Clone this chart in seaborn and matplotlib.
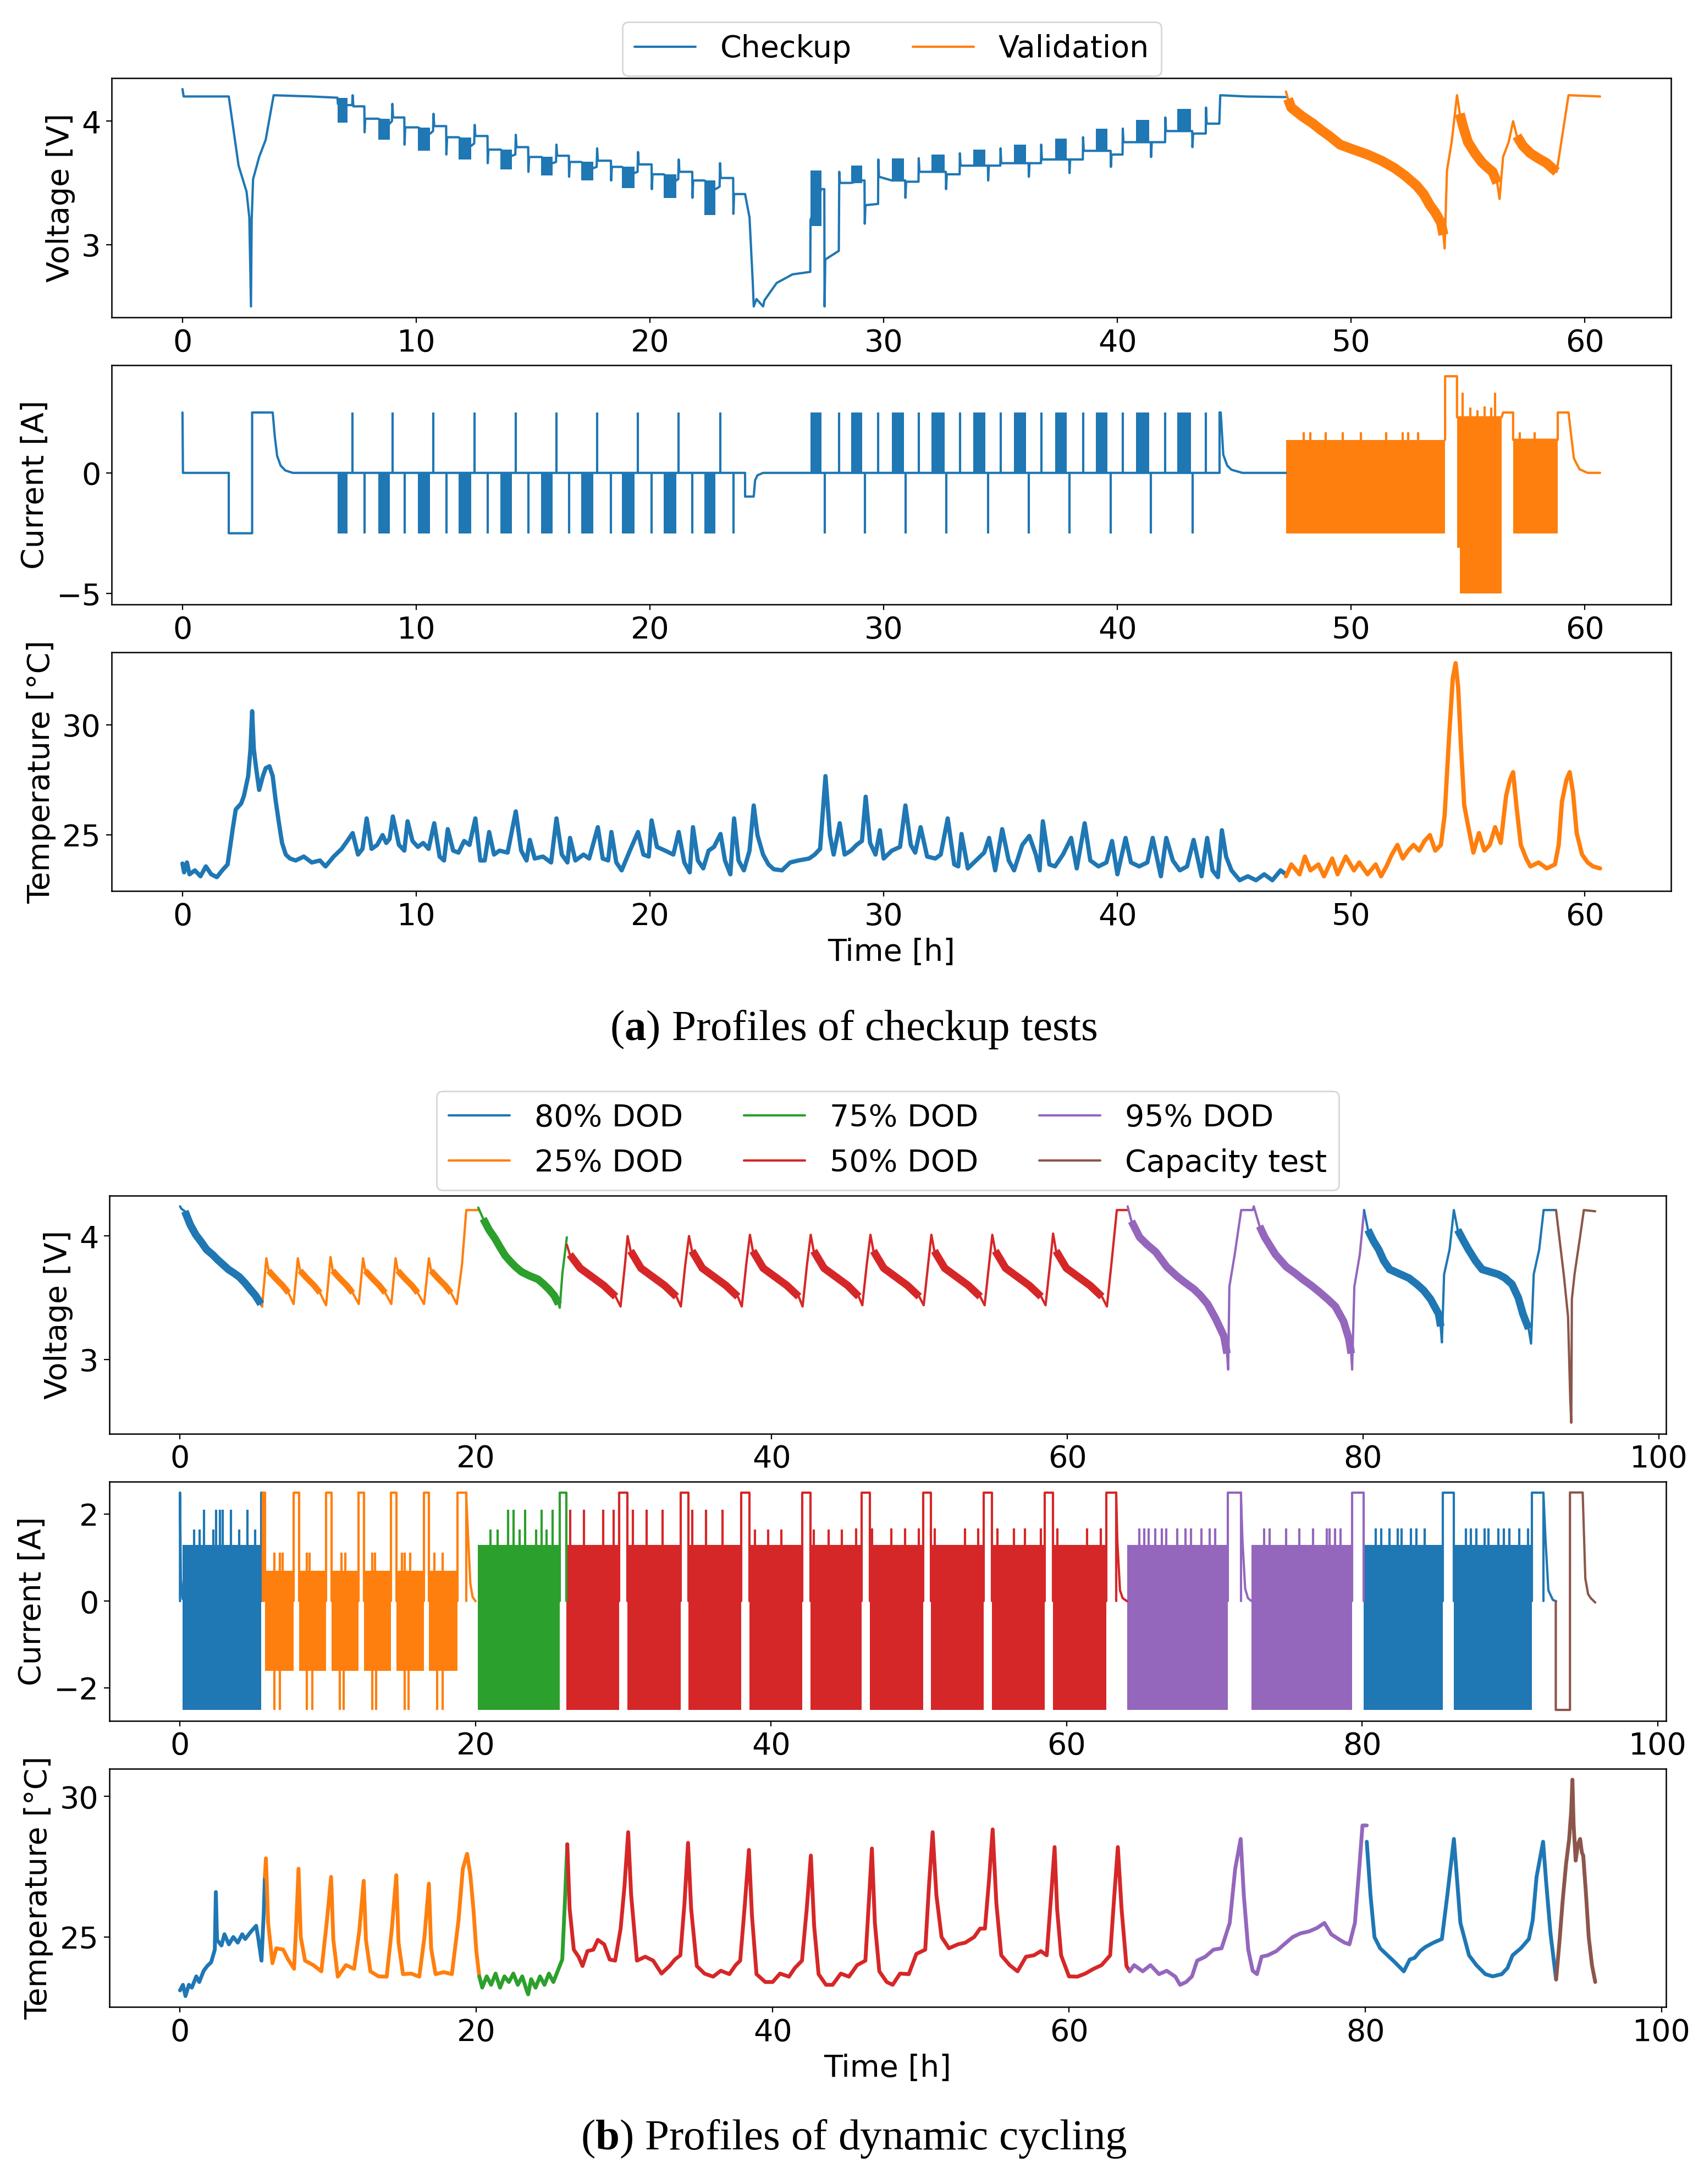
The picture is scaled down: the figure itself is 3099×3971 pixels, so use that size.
import numpy as np
import matplotlib
matplotlib.use("Agg")
import matplotlib.pyplot as plt
from matplotlib.lines import Line2D
import seaborn as sns

# ---------------------------------------------------------------
# values, time in hours
# ---------------------------------------------------------------

# (a) checkup test, voltage [V]
va_checkup = [
    (0.0, 4.26), (0.05, 4.20), (1.98, 4.20), (2.4, 3.64), (2.74, 3.43), (2.86, 3.22), (2.93, 2.50),
    (2.96, 3.20), (3.02, 3.53), (3.28, 3.71), (3.56, 3.85), (3.9, 4.21), (5.5, 4.20), (6.63, 4.19),
    (6.65, 4.14), (7.05, 4.13), (7.26, 4.13), (7.28, 4.21), (7.31, 4.12), (7.78, 4.12), (7.79, 3.91), (7.82, 4.02), (8.37, 4.02),
    (8.86, 3.98), (8.96, 4.00), (8.98, 4.14), (9.01, 4.03), (9.49, 4.03), (9.50, 3.81), (9.53, 3.95), (10.07, 3.95),
    (10.6, 3.90), (10.72, 3.92), (10.74, 4.06), (10.77, 3.96), (11.28, 3.96), (11.29, 3.73), (11.32, 3.87), (11.81, 3.87),
    (12.35, 3.80), (12.48, 3.82), (12.50, 3.97), (12.53, 3.88), (13.05, 3.88), (13.06, 3.66), (13.09, 3.77), (13.6, 3.77),
    (14.1, 3.72), (14.24, 3.73), (14.26, 3.89), (14.29, 3.79), (14.79, 3.79), (14.80, 3.59), (14.83, 3.71), (15.35, 3.71),
    (15.84, 3.66), (15.98, 3.67), (16.00, 3.81), (16.03, 3.72), (16.53, 3.72), (16.54, 3.55), (16.57, 3.67), (17.05, 3.67),
    (17.58, 3.62), (17.72, 3.63), (17.74, 3.78), (17.77, 3.68), (18.33, 3.68), (18.34, 3.52), (18.37, 3.63), (18.79, 3.63),
    (19.33, 3.58), (19.47, 3.59), (19.49, 3.75), (19.52, 3.65), (20.07, 3.65), (20.08, 3.45), (20.11, 3.57), (20.58, 3.57),
    (21.12, 3.52), (21.21, 3.53), (21.23, 3.69), (21.26, 3.59), (21.81, 3.59), (21.82, 3.38), (21.85, 3.52), (22.33, 3.52),
    (22.81, 3.45), (22.98, 3.47), (23.00, 3.66), (23.03, 3.54), (23.56, 3.54), (23.57, 3.25), (23.60, 3.41), (24.07, 3.41),
    (24.26, 3.22), (24.40, 2.69), (24.44, 2.50), (24.56, 2.56), (24.84, 2.50), (24.90, 2.55), (25.42, 2.69), (26.1, 2.76),
    (26.86, 2.78), (26.87, 3.20), (27.33, 3.45), (27.46, 3.45), (27.47, 2.50), (27.50, 2.88), (28.08, 2.95), (28.10, 3.59),
    (28.13, 3.50), (28.6, 3.50), (29.07, 3.52), (29.18, 3.52), (29.19, 3.17), (29.22, 3.32), (29.76, 3.33), (29.77, 3.69),
    (29.80, 3.55), (30.35, 3.52), (30.86, 3.52), (30.92, 3.52), (30.93, 3.38), (30.96, 3.51), (31.49, 3.51), (31.50, 3.70),
    (31.53, 3.59), (32.05, 3.59), (32.6, 3.59), (32.66, 3.59), (32.67, 3.45), (32.70, 3.57), (33.25, 3.57), (33.26, 3.74),
    (33.29, 3.64), (33.84, 3.64), (34.35, 3.64), (34.46, 3.64), (34.47, 3.52), (34.50, 3.64), (34.99, 3.64), (35.00, 3.78),
    (35.03, 3.66), (35.58, 3.66), (36.1, 3.66), (36.20, 3.66), (36.21, 3.55), (36.24, 3.66), (36.73, 3.66), (36.74, 3.81),
    (36.77, 3.69), (37.33, 3.69), (37.84, 3.69), (37.94, 3.69), (37.95, 3.58), (37.98, 3.69), (38.52, 3.69), (38.53, 3.87),
    (38.56, 3.76), (39.07, 3.76), (39.58, 3.76), (39.71, 3.76), (39.72, 3.63), (39.75, 3.73), (40.22, 3.73), (40.23, 3.94),
    (40.26, 3.83), (40.8, 3.83), (41.35, 3.83), (41.43, 3.83), (41.44, 3.71), (41.47, 3.83), (42.04, 3.83), (42.05, 4.03),
    (42.08, 3.92), (42.56, 3.92), (43.14, 3.92), (43.20, 3.92), (43.21, 3.79), (43.24, 3.90), (43.78, 3.90), (43.79, 4.11),
    (43.82, 3.98), (44.36, 3.98), (44.40, 4.21), (45.5, 4.20), (47.21, 4.195),
]
# pulse groups of the checkup (discharge / charge)
dis_groups = [(6.63, 7.05), (8.37, 8.86), (10.07, 10.6), (11.81, 12.35), (13.6, 14.1),
              (15.35, 15.84), (17.05, 17.58), (18.79, 19.33), (20.58, 21.12), (22.33, 22.81)]
chg_groups = [(26.87, 27.33), (28.6, 29.07), (30.35, 30.86), (32.05, 32.6), (33.84, 34.35),
              (35.58, 36.1), (37.33, 37.84), (39.07, 39.58), (40.8, 41.35), (42.56, 43.14)]
va_dis_lo = [3.99, 3.85, 3.76, 3.69, 3.61, 3.56, 3.52, 3.46, 3.38, 3.24]
va_dis_hi = [4.19, 4.02, 3.95, 3.87, 3.77, 3.71, 3.67, 3.63, 3.57, 3.52]
va_chg_lo = [3.15, 3.50, 3.52, 3.59, 3.64, 3.66, 3.69, 3.76, 3.83, 3.92]
va_chg_hi = [3.60, 3.64, 3.70, 3.73, 3.77, 3.81, 3.86, 3.94, 4.01, 4.10]

# (a) validation, voltage [V]
va_valid = [
    (47.21, 4.24), (47.3, 4.18), (47.44, 4.11), (47.9, 4.04), (48.37, 3.98), (48.7, 3.93), (49.07, 3.88),
    (49.53, 3.81), (50.1, 3.77), (50.7, 3.73), (51.3, 3.68), (51.86, 3.62), (52.3, 3.56), (52.79, 3.48),
    (53.1, 3.41), (53.37, 3.32), (53.6, 3.26), (53.84, 3.18), (53.95, 3.08), (54.0, 2.97), (54.1, 3.60),
    (54.3, 3.83), (54.53, 4.21), (54.65, 4.06), (54.8, 3.95), (55.0, 3.83), (55.3, 3.74), (55.58, 3.67),
    (55.8, 3.63), (56.05, 3.59), (56.25, 3.50), (56.35, 3.37), (56.5, 3.71), (56.74, 3.83), (56.93, 4.00),
    (57.09, 3.88), (57.35, 3.80), (57.67, 3.74), (58.0, 3.70), (58.37, 3.66), (58.6, 3.62), (58.79, 3.59),
    (58.95, 3.78), (59.3, 4.21), (60.65, 4.20),
]
va_valid_noisy = [(47.25, 53.95), (54.55, 56.3), (57.0, 58.8)]

# (a) current [A]
ia_checkup = [
    (0.0, 2.5), (0.02, 0.0), (1.98, 0.0), (1.98, -2.5), (2.98, -2.5), (2.98, 2.5), (3.86, 2.5), (3.95, 1.5),
    (4.05, 0.7), (4.2, 0.3), (4.4, 0.1), (4.72, 0.0), (24.07, 0.0), (24.07, -0.98), (24.44, -0.98),
    (24.5, -0.3), (24.6, -0.1), (24.84, 0.0), (44.37, 0.0), (44.37, 2.5), (44.42, 2.5), (44.53, 0.75),
    (44.7, 0.3), (44.88, 0.13), (45.35, 0.0), (47.21, 0.0),
]
ia_neg_pulses = [7.79, 9.50, 11.29, 13.06, 14.80, 16.54, 18.34, 20.08, 21.82, 23.57,
                 27.47, 29.19, 30.93, 32.67, 34.47, 36.21, 37.95, 39.72, 41.44, 43.21]
ia_pos_pulses = [7.28, 8.98, 10.74, 12.50, 14.26, 16.00, 17.74, 19.49, 21.23, 23.00,
                 28.10, 29.77, 31.50, 33.26, 35.00, 36.74, 38.53, 40.23, 42.05, 43.79]
ia_valid_bands = [(47.21, 54.02), (54.53, 54.66), (54.66, 56.44), (56.93, 58.84)]
ia_valid_lo = [-2.5, -3.1, -5.0, -2.5]
ia_valid_hi = [1.37, 2.3, 2.3, 1.37]
ia_valid_line = [
    (54.02, 1.37), (54.02, 4.0), (54.53, 4.0), (54.53, 2.3), (56.44, 2.3), (56.5, 2.5), (56.93, 2.5),
    (56.93, 1.37), (58.84, 1.37), (58.84, 2.5), (59.3, 2.5), (59.42, 1.5), (59.53, 0.6), (59.77, 0.15),
    (60.12, 0.0), (60.65, 0.0),
]
ia_valid_spike_t = [47.98, 48.26, 48.91, 49.65, 50.42, 51.51, 52.21, 52.44, 52.86,
                    54.77, 55.1, 55.4, 55.7, 56.0, 56.16, 57.21, 57.86]
ia_valid_spike_i = [1.67, 1.67, 1.67, 1.67, 1.67, 1.67, 1.67, 1.67, 1.67,
                    3.33, 2.7, 2.6, 2.75, 2.7, 3.33, 1.67, 1.67]

# (a) temperature [degC]
ta_checkup = [
    (0.0, 23.68), (0.07, 23.28), (0.19, 23.73), (0.3, 23.19), (0.53, 23.37), (0.77, 23.1), (1.0, 23.55),
    (1.23, 23.19), (1.47, 23.06), (1.7, 23.37), (1.93, 23.64), (2.05, 24.53), (2.16, 25.34), (2.28, 26.15),
    (2.51, 26.42), (2.63, 26.77), (2.81, 27.67), (2.91, 28.92), (2.98, 30.63), (3.05, 28.92), (3.14, 28.12),
    (3.28, 27.04), (3.44, 27.67), (3.56, 28.03), (3.72, 28.12), (3.86, 27.67), (3.98, 26.6), (4.14, 25.43),
    (4.26, 24.62), (4.42, 24.09), (4.6, 23.91), (4.84, 23.82), (5.19, 24.0), (5.53, 23.73), (5.88, 23.82),
    (6.12, 23.55), (6.47, 24.0), (6.81, 24.35), (7.05, 24.71), (7.28, 25.07), (7.51, 24.09), (7.7, 24.35),
    (7.88, 25.74), (8.09, 24.35), (8.33, 24.53), (8.56, 24.98), (8.72, 24.62), (8.86, 24.8), (9.0, 25.83),
    (9.26, 24.53), (9.49, 24.27), (9.63, 25.61), (9.84, 24.71), (10.07, 24.44), (10.3, 24.62), (10.53, 24.35),
    (10.77, 25.52), (11.0, 24.0), (11.19, 23.82), (11.35, 25.25), (11.58, 24.27), (11.81, 24.18), (12.05, 24.71),
    (12.28, 24.53), (12.53, 25.74), (12.74, 23.82), (12.93, 23.82), (13.12, 25.12), (13.33, 24.09), (13.56, 24.27),
    (13.91, 24.18), (14.26, 26.06), (14.49, 24.27), (14.72, 23.82), (14.86, 24.76), (15.07, 23.91), (15.42, 24.0),
    (15.77, 23.73), (16.0, 25.74), (16.23, 24.09), (16.47, 23.73), (16.58, 24.85), (16.81, 23.82), (17.16, 24.09),
    (17.4, 23.91), (17.77, 25.34), (17.98, 23.91), (18.21, 23.82), (18.35, 25.12), (18.56, 23.73), (18.79, 23.37),
    (19.14, 24.27), (19.49, 25.12), (19.72, 24.09), (19.95, 24.0), (20.07, 25.65), (20.3, 24.44), (20.65, 24.27),
    (21.0, 24.09), (21.23, 25.12), (21.47, 23.73), (21.7, 23.28), (21.84, 25.34), (22.05, 23.82), (22.28, 23.46),
    (22.51, 24.27), (22.74, 24.44), (23.02, 25.03), (23.21, 23.82), (23.44, 23.19), (23.6, 25.74), (23.79, 23.82),
    (24.02, 23.37), (24.26, 24.27), (24.44, 26.33), (24.6, 24.98), (24.84, 24.09), (25.07, 23.64), (25.3, 23.42),
    (25.65, 23.37), (26.0, 23.73), (26.35, 23.82), (26.81, 23.91), (27.05, 24.09), (27.28, 24.35), (27.51, 27.67),
    (27.7, 24.98), (27.86, 24.09), (28.12, 25.52), (28.33, 24.09), (28.6, 24.27), (28.84, 24.53), (29.07, 24.71),
    (29.23, 26.73), (29.42, 24.62), (29.65, 24.09), (29.84, 25.2), (30.0, 23.91), (30.35, 24.27), (30.7, 24.44),
    (30.93, 26.33), (31.16, 24.53), (31.35, 24.18), (31.58, 25.34), (31.86, 24.0), (32.21, 23.91), (32.44, 24.09),
    (32.74, 25.74), (33.02, 23.64), (33.19, 23.55), (33.33, 25.03), (33.6, 23.46), (33.95, 23.82), (34.3, 24.18),
    (34.51, 24.85), (34.77, 23.37), (35.07, 25.25), (35.35, 23.82), (35.58, 23.37), (35.93, 24.53), (36.23, 24.94),
    (36.51, 24.09), (36.67, 23.37), (36.81, 25.61), (37.09, 23.64), (37.33, 23.55), (37.67, 24.09), (38.02, 24.85),
    (38.26, 23.46), (38.6, 25.52), (38.84, 23.82), (39.19, 23.55), (39.53, 23.73), (39.77, 24.71), (40.0, 23.19),
    (40.35, 24.85), (40.58, 23.73), (40.93, 23.55), (41.28, 23.73), (41.51, 24.85), (41.86, 23.1), (42.09, 24.85),
    (42.37, 23.82), (42.67, 23.37), (42.98, 23.55), (43.26, 24.76), (43.6, 23.1), (43.84, 24.85), (44.07, 23.37),
    (44.3, 23.06), (44.47, 25.2), (44.65, 24.0), (44.88, 23.37), (45.23, 22.92), (45.58, 23.1), (45.93, 22.92),
    (46.28, 23.19), (46.63, 22.92), (46.98, 23.37), (47.21, 23.19),
]
ta_valid = [
    (47.21, 23.1), (47.44, 23.64), (47.79, 23.19), (48.02, 24.0), (48.26, 23.37), (48.6, 23.64), (48.84, 23.1),
    (49.19, 23.91), (49.42, 23.19), (49.77, 24.0), (50.12, 23.37), (50.35, 23.73), (50.7, 23.19), (51.05, 23.64),
    (51.28, 23.1), (51.51, 23.55), (51.74, 24.09), (51.98, 24.53), (52.21, 23.91), (52.44, 24.27), (52.67, 24.53),
    (52.91, 24.27), (53.14, 24.71), (53.37, 24.98), (53.6, 24.27), (53.84, 24.53), (54.0, 25.88), (54.19, 29.46),
    (54.35, 32.15), (54.47, 32.82), (54.58, 31.7), (54.7, 29.01), (54.84, 26.33), (55.0, 25.43), (55.23, 24.18),
    (55.47, 25.07), (55.7, 24.27), (55.93, 24.53), (56.16, 25.34), (56.4, 24.62), (56.63, 26.77), (56.79, 27.49),
    (56.93, 27.85), (57.07, 26.33), (57.26, 24.53), (57.49, 23.91), (57.67, 23.55), (58.02, 23.73), (58.37, 23.46),
    (58.72, 23.64), (58.88, 24.53), (59.02, 26.51), (59.21, 27.49), (59.35, 27.85), (59.49, 26.95), (59.65, 25.07),
    (59.88, 24.09), (60.12, 23.73), (60.35, 23.55), (60.65, 23.46),
]

# (b) dynamic cycling, voltage [V]
vb_d80_1 = [(0.0, 4.24), (0.1, 4.22), (0.33, 4.20), (0.7, 4.09), (1.07, 4.01), (1.45, 3.95), (1.8, 3.89),
            (2.2, 3.85), (2.53, 3.81), (2.9, 3.77), (3.27, 3.73), (3.65, 3.70), (4.0, 3.67), (4.4, 3.62),
            (4.74, 3.57), (5.1, 3.52), (5.47, 3.45), (5.55, 3.43)]
vb_d25 = [(5.55, 3.43), (5.84, 3.82), (5.99, 3.72), (6.44, 3.66), (6.94, 3.60), (7.34, 3.54), (7.68, 3.45),
          (7.97, 3.82), (8.12, 3.72), (8.57, 3.66), (9.07, 3.60), (9.47, 3.54), (9.88, 3.44),
          (10.18, 3.83), (10.33, 3.72), (10.78, 3.66), (11.28, 3.60), (11.68, 3.54), (12.09, 3.45),
          (12.38, 3.82), (12.53, 3.72), (12.98, 3.66), (13.48, 3.60), (13.88, 3.54), (14.29, 3.45),
          (14.58, 3.82), (14.73, 3.72), (15.18, 3.66), (15.68, 3.60), (16.08, 3.54), (16.5, 3.45),
          (16.83, 3.82), (16.98, 3.72), (17.43, 3.66), (17.93, 3.60), (18.33, 3.54), (18.72, 3.45),
          (19.07, 3.77), (19.36, 4.21), (20.17, 4.21)]
vb_d75 = [(20.17, 4.23), (20.5, 4.14), (20.9, 4.05), (21.3, 3.98), (21.64, 3.91), (22.0, 3.84), (22.37, 3.79),
          (22.7, 3.75), (23.1, 3.71), (23.6, 3.68), (24.21, 3.65), (24.6, 3.61), (24.94, 3.57), (25.3, 3.52),
          (25.6, 3.45), (25.68, 3.42), (25.86, 3.70), (26.16, 3.99)]
vb_d50 = [(26.16, 3.93), (26.36, 3.85), (27.06, 3.74), (27.86, 3.67), (28.66, 3.60), (29.46, 3.51), (29.79, 3.43), (30.09, 3.77), (30.27, 4.00),
          (30.47, 3.88), (31.17, 3.74), (31.97, 3.67), (32.77, 3.60), (33.57, 3.51), (33.87, 3.43), (34.17, 3.77), (34.42, 4.00),
          (34.62, 3.88), (35.32, 3.74), (36.12, 3.67), (36.92, 3.60), (37.72, 3.51), (37.99, 3.43), (38.29, 3.77), (38.54, 4.01),
          (38.74, 3.88), (39.44, 3.74), (40.24, 3.67), (41.04, 3.60), (41.84, 3.51), (42.1, 3.43), (42.4, 3.77), (42.65, 4.01),
          (42.85, 3.88), (43.55, 3.74), (44.35, 3.67), (45.15, 3.60), (45.9, 3.51), (46.14, 3.44), (46.44, 3.77), (46.69, 4.01),
          (46.89, 3.88), (47.59, 3.74), (48.39, 3.67), (49.19, 3.60), (49.99, 3.51), (50.29, 3.44), (50.59, 3.77), (50.81, 4.01),
          (51.01, 3.88), (51.71, 3.74), (52.51, 3.67), (53.31, 3.60), (54.11, 3.51), (54.41, 3.44), (54.71, 3.77), (54.93, 4.01),
          (55.13, 3.88), (55.83, 3.74), (56.63, 3.67), (57.43, 3.60), (58.23, 3.51), (58.53, 3.44), (58.83, 3.77), (59.04, 4.02),
          (59.24, 3.88), (59.94, 3.74), (60.74, 3.67), (61.54, 3.60), (62.34, 3.51), (62.68, 3.43), (62.98, 3.77), (63.35, 4.21),
          (64.08, 4.21)]
vb_d95 = [(64.08, 4.24), (64.34, 4.12), (64.89, 3.99), (65.4, 3.93), (65.99, 3.87), (66.73, 3.75), (67.46, 3.67),
          (68.0, 3.62), (68.57, 3.57), (69.0, 3.52), (69.49, 3.45), (70.04, 3.33), (70.59, 3.19), (70.8, 3.05),
          (70.88, 2.92), (70.96, 3.59), (71.32, 3.85), (71.76, 4.21), (72.54, 4.21), (72.61, 4.24), (73.0, 4.08),
          (73.35, 3.99), (74.08, 3.85), (74.82, 3.75), (75.4, 3.70), (75.92, 3.65), (76.5, 3.60), (77.02, 3.55),
          (77.6, 3.49), (78.13, 3.43), (78.68, 3.31), (79.04, 3.17), (79.2, 3.05), (79.26, 2.92), (79.41, 3.59),
          (79.78, 3.85), (80.07, 4.21)]
vb_d80_2 = [(80.07, 4.21), (80.33, 4.05), (80.7, 3.96), (81.06, 3.89), (81.4, 3.80), (81.8, 3.73), (82.54, 3.69),
            (83.1, 3.66), (83.64, 3.61), (84.1, 3.56), (84.56, 3.49), (85.11, 3.37), (85.25, 3.27), (85.33, 3.14),
            (85.48, 3.69), (85.85, 3.89), (86.14, 4.21), (86.4, 4.05), (86.8, 3.96), (87.13, 3.89), (87.6, 3.80),
            (88.05, 3.73), (89.15, 3.69), (89.6, 3.66), (90.07, 3.61), (90.5, 3.50), (90.81, 3.37), (91.2, 3.25),
            (91.36, 3.13), (91.54, 3.69), (91.91, 3.89), (92.21, 4.21), (93.05, 4.21)]
vb_cap = [(93.05, 4.21), (93.57, 3.69), (93.86, 3.35), (94.01, 2.68), (94.08, 2.49), (94.12, 3.49),
          (94.3, 3.69), (94.67, 3.99), (94.93, 4.21), (95.7, 4.20)]
vb_d80_noisy = [(0.3, 5.5), (80.25, 85.3), (86.3, 91.33)]
vb_d25_noisy = [(5.9, 7.65), (8.03, 9.85), (10.24, 12.05), (12.44, 14.25), (14.64, 16.47), (16.89, 18.7)]
vb_d75_noisy = [(20.3, 25.6)]
vb_d50_noisy = [(26.3, 29.75), (30.4, 33.85), (34.55, 37.95), (38.67, 42.05), (42.78, 46.1),
                (46.82, 50.25), (50.94, 54.38), (55.06, 58.5), (59.17, 62.65)]
vb_d95_noisy = [(64.3, 70.85), (72.7, 79.22)]

# (b) current [A]: dense switching bands, 2.5 A charge plateaus, decays and spikes
ib_d80_bands = [(0.18, 5.5), (80.11, 85.45), (86.19, 91.49)]
ib_d80_plateaus = [(5.5, 5.62), (85.45, 86.19), (91.49, 92.26)]
ib_d80_line = [(0.0, 0.0), (0.0, 2.5), (0.06, 0.5), (0.18, 0.05)]
ib_d80_tail = [(92.26, 2.5), (92.41, 1.38), (92.6, 0.25), (92.9, 0.03), (93.12, 0.0)]
ib_d80_spike_t = [0.96, 1.32, 1.62, 2.24, 2.46, 2.72, 2.9, 3.45, 4.0, 4.55, 5.1,
                  80.92, 81.29, 81.84, 82.39, 82.65, 83.31, 83.68, 84.24,
                  87.0, 87.37, 87.73, 88.29, 88.55, 89.21, 89.58, 89.95, 90.61, 91.23]
ib_d80_spike_i = [1.65, 1.65, 2.1, 1.65, 2.1, 2.1, 2.1, 2.1, 1.65, 2.1, 1.65,
                  1.67, 1.67, 1.67, 1.67, 1.67, 1.67, 1.67, 1.67,
                  1.67, 1.67, 1.67, 1.67, 1.67, 1.67, 1.67, 1.67, 1.67, 1.67]
ib_d25_bands = [(5.75, 7.68), (8.05, 9.88), (10.25, 12.09), (12.45, 14.29), (14.66, 16.5), (16.86, 18.77)]
ib_d25_plateaus = [(5.62, 5.75), (7.68, 8.05), (9.88, 10.25), (12.09, 12.45), (14.29, 14.66), (16.5, 16.86), (18.77, 19.36)]
ib_d25_tail = [(19.36, 2.5), (19.51, 1.38), (19.65, 0.4), (19.8, 0.1), (20.0, 0.0)]
ib_d25_up_t = [6.39, 6.76, 6.94, 8.6, 8.78, 10.91, 11.17, 13.0, 13.19, 15.03, 15.21, 15.58, 17.23, 17.78]
ib_d25_dn_t = [6.39, 6.76, 8.6, 8.96, 10.8, 11.06, 13.0, 13.26, 15.21, 15.47, 17.41, 17.78]
ib_d75_bands = [(20.17, 25.68)]
ib_d75_plateaus = [(25.68, 26.16)]
ib_d75_spike_t = [21.0, 21.5, 22.19, 22.56, 23.0, 23.37, 24.1, 24.47, 24.8, 25.2]
ib_d75_spike_i = [1.65, 1.65, 2.1, 2.1, 1.65, 2.1, 1.65, 2.1, 1.65, 2.1]
ib_d50_bands = [(26.16, 29.72), (30.27, 33.87), (34.42, 37.99), (38.54, 42.1), (42.65, 46.11),
                (46.67, 50.28), (50.83, 54.4), (54.95, 58.53), (59.08, 62.69)]
ib_d50_plateaus = [(29.72, 30.27), (33.87, 34.42), (37.99, 38.54), (42.1, 42.65), (46.11, 46.67),
                   (50.28, 50.83), (54.4, 54.95), (58.53, 59.08), (62.69, 63.35)]
ib_d50_tail = [(63.35, 2.5), (63.43, 1.38), (63.61, 0.25), (63.79, 0.07), (64.09, 0.0)]
ib_d50_spike_t = [26.41, 27.33, 28.62, 29.35, 30.64, 31.56, 32.66, 34.68, 35.6, 36.7, 38.9, 39.8, 40.7,
                  42.9, 43.9, 44.8, 45.75, 46.85, 48.14, 49.06, 49.98, 51.08, 53.11, 54.03, 55.32,
                  56.43, 57.16, 58.27, 59.37, 61.4, 62.32]
ib_d50_spike_i = [2.1, 2.1, 2.1, 2.1, 2.1, 2.1, 2.1, 2.1, 2.1, 2.1, 1.65, 1.65, 1.65,
                  1.65, 1.65, 1.65, 1.67, 1.67, 1.67, 1.67, 1.67, 1.67, 1.67, 1.67, 1.67,
                  1.67, 1.67, 1.67, 1.67, 1.67, 1.67]
ib_d95_bands = [(64.09, 70.9), (72.52, 79.3)]
ib_d95_plateaus = [(70.9, 71.79), (79.3, 80.11)]
ib_d95_tail = [(71.79, 2.5), (71.9, 1.38), (72.08, 0.29), (72.27, 0.07), (72.52, 0.0)]
ib_d95_spike_t = [64.9, 65.27, 65.56, 66.0, 66.45, 66.74, 67.48, 68.03, 68.4, 69.13, 69.69, 70.06,
                  73.37, 73.74, 74.84, 75.76, 76.68, 77.61, 77.79, 78.16, 78.53]
ib_cap = [(93.1, 0.0), (93.1, -2.5), (94.06, -2.5), (94.06, 2.5), (94.92, 2.5), (95.1, 0.52),
          (95.29, 0.16), (95.47, 0.07), (95.77, -0.03)]

# (b) temperature [degC]
tb_d80_1 = [(0.0, 23.1), (0.2, 23.3), (0.37, 22.9), (0.6, 23.3), (0.8, 23.2), (1.1, 23.6), (1.3, 23.4),
            (1.6, 23.8), (1.84, 23.97), (2.1, 24.1), (2.35, 24.55), (2.42, 26.6), (2.5, 24.9), (2.8, 24.7),
            (3.0, 25.1), (3.3, 24.74), (3.6, 25.0), (3.9, 24.8), (4.2, 25.1), (4.4, 24.93), (4.8, 25.2),
            (5.14, 25.4), (5.3, 24.9), (5.5, 24.16), (5.65, 25.8), (5.73, 27.14)]
tb_d25 = [(5.73, 27.14), (5.8, 27.8), (5.95, 25.5), (6.24, 24.07), (6.5, 24.6), (6.97, 24.55), (7.3, 24.2),
          (7.7, 23.87), (7.85, 25.5), (8.0, 27.43), (8.15, 25.0), (8.44, 24.16), (9.0, 24.0), (9.54, 23.78),
          (9.9, 25.5), (10.2, 27.14), (10.35, 24.9), (10.65, 23.59), (11.2, 24.0), (11.75, 23.87), (12.1, 25.2),
          (12.4, 27.0), (12.55, 24.9), (12.85, 23.78), (13.4, 23.6), (13.95, 23.59), (14.3, 25.3), (14.6, 27.2),
          (14.75, 24.8), (15.05, 23.68), (15.6, 23.7), (16.15, 23.59), (16.5, 25.0), (16.8, 26.9), (16.95, 24.6),
          (17.25, 23.68), (17.8, 23.75), (18.35, 23.68), (18.8, 25.6), (19.09, 27.43), (19.38, 27.96),
          (19.6, 27.2), (19.82, 25.9), (20.0, 24.5), (20.2, 23.6)]
tb_d75 = [(20.2, 23.6), (20.4, 23.2), (20.7, 23.6), (21.0, 23.3), (21.3, 23.7), (21.6, 23.2), (21.9, 23.6),
          (22.2, 23.4), (22.5, 23.7), (22.8, 23.3), (23.1, 23.6), (23.4, 23.1), (23.5, 22.96), (23.7, 23.5),
          (24.0, 23.2), (24.3, 23.6), (24.6, 23.3), (24.9, 23.7), (25.2, 23.4), (25.5, 23.8), (25.8, 24.2),
          (26.0, 26.5), (26.14, 28.3)]
tb_d50 = [(26.14, 28.3), (26.3, 26.0), (26.58, 24.55), (26.9, 24.3), (27.17, 23.97), (27.5, 24.5), (27.9, 24.55),
          (28.2, 24.9), (28.63, 24.74), (29.0, 24.2), (29.37, 24.16), (29.74, 25.3), (30.0, 26.8), (30.25, 28.73),
          (30.45, 26.5), (30.84, 24.16), (31.4, 24.3), (31.94, 24.16), (32.5, 23.7), (33.04, 23.97), (33.4, 24.2),
          (33.77, 24.35), (34.05, 26.2), (34.29, 28.35), (34.5, 26.0), (34.88, 23.97), (35.4, 23.7), (35.98, 23.59),
          (36.5, 23.8), (37.08, 23.68), (37.5, 24.0), (37.81, 24.16), (38.1, 26.0), (38.4, 28.1), (38.6, 25.8),
          (38.91, 23.68), (39.5, 23.4), (40.0, 23.4), (40.5, 23.7), (41.1, 23.59), (41.5, 23.9), (41.98, 24.16),
          (42.3, 26.0), (42.58, 27.9), (42.8, 25.4), (43.1, 23.68), (43.6, 23.3), (44.05, 23.3), (44.6, 23.7),
          (45.15, 23.59), (45.7, 24.0), (46.26, 24.16), (46.5, 26.3), (46.7, 28.15), (46.9, 25.5), (47.2, 23.78),
          (47.7, 23.4), (48.1, 23.3), (48.6, 23.7), (49.19, 23.68), (49.7, 24.4), (50.3, 24.55), (50.55, 26.8),
          (50.8, 28.73), (51.05, 26.5), (51.4, 25.0), (51.9, 24.6), (52.5, 24.74), (53.0, 24.8), (53.6, 25.0),
          (54.0, 25.3), (54.33, 25.3), (54.6, 27.0), (54.85, 28.83), (55.1, 26.2), (55.43, 24.35), (56.0, 24.0),
          (56.53, 23.78), (57.1, 24.3), (57.64, 24.35), (58.1, 24.5), (58.5, 24.35), (58.8, 26.5), (59.03, 28.2),
          (59.2, 26.0), (59.47, 24.35), (60.0, 23.6), (60.57, 23.59), (61.1, 23.7), (61.67, 23.87), (62.2, 24.0),
          (62.78, 24.35), (63.05, 26.4), (63.3, 28.2), (63.55, 26.0), (63.88, 23.97), (64.1, 23.78)]
tb_d95 = [(64.1, 23.78), (64.4, 24.0), (64.98, 23.78), (65.5, 24.0), (66.08, 23.68), (66.6, 23.8), (67.18, 23.59),
          (67.5, 23.3), (67.91, 23.4), (68.3, 23.6), (68.65, 24.16), (69.2, 24.3), (69.75, 24.55), (70.3, 24.6),
          (70.85, 25.5), (71.22, 27.43), (71.59, 28.49), (71.8, 26.5), (72.1, 24.55), (72.4, 23.8), (72.69, 23.68),
          (73.0, 24.3), (73.42, 24.35), (74.0, 24.5), (74.52, 24.74), (75.1, 25.0), (75.62, 25.13), (76.2, 25.2),
          (76.73, 25.32), (77.24, 25.5), (77.7, 25.1), (78.19, 24.93), (78.6, 24.8), (78.93, 24.74), (79.3, 25.5),
          (79.6, 27.5), (79.81, 28.97), (80.1, 28.97)]
tb_d80_2 = [(80.1, 28.39), (80.35, 26.5), (80.62, 25.0), (81.0, 24.6), (81.5, 24.35), (82.0, 24.1), (82.6, 23.78),
            (83.0, 24.2), (83.33, 24.26), (83.7, 24.5), (84.07, 24.65), (84.6, 24.8), (85.17, 24.93), (85.54, 26.5),
            (85.98, 28.49), (86.2, 27.0), (86.42, 25.5), (87.0, 24.35), (87.5, 24.0), (88.1, 23.68), (88.6, 23.6),
            (89.21, 23.68), (89.6, 23.9), (89.94, 24.35), (90.5, 24.6), (91.04, 24.93), (91.3, 25.6), (91.56, 27.14),
            (92.0, 28.39), (92.2, 27.0), (92.5, 25.13), (92.88, 23.49)]
tb_cap = [(92.88, 23.49), (93.1, 24.8), (93.32, 26.28), (93.55, 27.6), (93.76, 28.49), (93.9, 29.5), (93.98, 30.6),
          (94.06, 29.0), (94.2, 27.72), (94.35, 28.3), (94.5, 28.49), (94.62, 28.0), (94.71, 27.9), (94.9, 26.5),
          (95.08, 25.0), (95.3, 24.0), (95.52, 23.4)]

labels_a = ["Checkup", "Validation"]
labels_b = ["80% DOD", "25% DOD", "75% DOD", "50% DOD", "95% DOD", "Capacity test"]

# ---------------------------------------------------------------
sns.set_style("ticks")
plt.rcParams["font.family"] = ["DejaVu Sans"]
plt.rcParams.update({
    "axes.edgecolor": "black", "axes.labelcolor": "black", "text.color": "black",
    "xtick.color": "black", "ytick.color": "black", "axes.linewidth": 0.9,
    "mathtext.fontset": "custom", "mathtext.rm": "Liberation Serif",
    "mathtext.bf": "Liberation Serif:bold",
})
FS = 20
c_blue, c_orange, c_green, c_red, c_purple, c_brown = sns.color_palette("tab10")[:6]


def xy(pairs):
    a = np.array(pairs, dtype=float)
    return a[:, 0], a[:, 1]


def line(ax, pairs, color, lw=1.5):
    t, y = xy(pairs)
    sns.lineplot(x=t, y=y, ax=ax, color=color, lw=lw, estimator=None, sort=False, legend=False)


def noisy(ax, pairs, spans, color, lw=5.0):
    # thicker trace where the measured signal is a noisy band
    t, y = xy(pairs)
    for t0, t1 in spans:
        m = (t >= t0) & (t <= t1)
        if m.sum() > 1:
            sns.lineplot(x=t[m], y=y[m], ax=ax, color=color, lw=lw, estimator=None,
                         sort=False, legend=False, solid_capstyle="butt")


def blocks(ax, spans, lo, hi, color):
    for (t0, t1), a, b in zip(spans, lo, hi):
        ax.fill_between([t0, t1], [a, a], [b, b], color=color, lw=0)


def plateaus(ax, spans, color, top=2.5):
    for t0, t1 in spans:
        line(ax, [(t0, 0.0), (t0, top), (t1, top), (t1, 0.0)], color)


def band_series(ax, bands, hi, color, lo=-2.5):
    blocks(ax, bands, [lo] * len(bands), [hi] * len(bands), color)


fig = plt.figure(figsize=(15.495, 19.855), dpi=200)
ax1 = fig.add_axes([0.0655, 0.8547, 0.9151, 0.1095])
ax2 = fig.add_axes([0.0655, 0.7232, 0.9151, 0.1095])
ax3 = fig.add_axes([0.0655, 0.5920, 0.9151, 0.1093])
bx1 = fig.add_axes([0.0641, 0.3436, 0.9136, 0.1090])
bx2 = fig.add_axes([0.0641, 0.2121, 0.9136, 0.1095])
bx3 = fig.add_axes([0.0641, 0.0811, 0.9136, 0.1090])

# ---- (a) voltage
line(ax1, va_checkup, c_blue)
blocks(ax1, dis_groups, va_dis_lo, va_dis_hi, c_blue)
blocks(ax1, chg_groups, va_chg_lo, va_chg_hi, c_blue)
line(ax1, va_valid, c_orange)
noisy(ax1, va_valid, va_valid_noisy, c_orange, lw=6.5)

# ---- (a) current
line(ax2, ia_checkup, c_blue)
ax2.vlines(ia_neg_pulses, 0, -2.5, color=c_blue, lw=1.5)
ax2.vlines(ia_pos_pulses, 0, 2.5, color=c_blue, lw=1.5)
blocks(ax2, dis_groups, [-2.5] * len(dis_groups), [0.0] * len(dis_groups), c_blue)
blocks(ax2, chg_groups, [0.0] * len(chg_groups), [2.5] * len(chg_groups), c_blue)
blocks(ax2, ia_valid_bands, ia_valid_lo, ia_valid_hi, c_orange)
line(ax2, ia_valid_line, c_orange)
ax2.vlines(ia_valid_spike_t, 0, ia_valid_spike_i, color=c_orange, lw=1.5)

# ---- (a) temperature
line(ax3, ta_checkup, c_blue, lw=2.8)
line(ax3, ta_valid, c_orange, lw=2.8)

# ---- (b) voltage
line(bx1, vb_d80_1, c_blue)
line(bx1, vb_d25, c_orange)
line(bx1, vb_d75, c_green)
line(bx1, vb_d50, c_red)
line(bx1, vb_d95, c_purple)
line(bx1, vb_d80_2, c_blue)
line(bx1, vb_cap, c_brown)
noisy(bx1, vb_d80_1, vb_d80_noisy, c_blue)
noisy(bx1, vb_d80_2, vb_d80_noisy, c_blue)
noisy(bx1, vb_d25, vb_d25_noisy, c_orange, lw=4.0)
noisy(bx1, vb_d75, vb_d75_noisy, c_green)
noisy(bx1, vb_d50, vb_d50_noisy, c_red)
noisy(bx1, vb_d95, vb_d95_noisy, c_purple)

# ---- (b) current
band_series(bx2, ib_d80_bands, 1.3, c_blue)
plateaus(bx2, ib_d80_plateaus, c_blue)
line(bx2, ib_d80_line, c_blue)
line(bx2, ib_d80_tail, c_blue)
bx2.vlines(ib_d80_spike_t, 0, ib_d80_spike_i, color=c_blue, lw=1.5)
band_series(bx2, ib_d25_bands, 0.7, c_orange, lo=-1.6)
plateaus(bx2, ib_d25_plateaus, c_orange)
line(bx2, ib_d25_tail, c_orange)
bx2.vlines(ib_d25_up_t, 0, 1.12, color=c_orange, lw=1.5)
bx2.vlines(ib_d25_dn_t, 0, -2.5, color=c_orange, lw=1.5)
band_series(bx2, ib_d75_bands, 1.3, c_green)
plateaus(bx2, ib_d75_plateaus, c_green)
bx2.vlines(ib_d75_spike_t, 0, ib_d75_spike_i, color=c_green, lw=1.5)
band_series(bx2, ib_d50_bands, 1.3, c_red)
plateaus(bx2, ib_d50_plateaus, c_red)
line(bx2, ib_d50_tail, c_red)
bx2.vlines(ib_d50_spike_t, 0, ib_d50_spike_i, color=c_red, lw=1.5)
band_series(bx2, ib_d95_bands, 1.3, c_purple)
plateaus(bx2, ib_d95_plateaus, c_purple)
line(bx2, ib_d95_tail, c_purple)
bx2.vlines(ib_d95_spike_t, 0, 1.67, color=c_purple, lw=1.5)
line(bx2, ib_cap, c_brown)

# ---- (b) temperature
for pairs, col in [(tb_d80_1, c_blue), (tb_d25, c_orange), (tb_d75, c_green), (tb_d50, c_red),
                   (tb_d95, c_purple), (tb_d80_2, c_blue), (tb_cap, c_brown)]:
    line(bx3, pairs, col, lw=2.5)

# ---- axes cosmetics
for ax in (ax1, ax2, ax3):
    ax.set_xticks([0, 10, 20, 30, 40, 50, 60])
for ax in (bx1, bx2, bx3):
    ax.set_xticks([0, 20, 40, 60, 80, 100])
ax1.set_yticks([3, 4])
ax2.set_yticks([-5, 0])
ax3.set_yticks([25, 30])
bx1.set_yticks([3, 4])
bx2.set_yticks([-2, 0, 2])
bx3.set_yticks([25, 30])
for ax, lab in [(ax1, "Voltage [V]"), (ax2, "Current [A]"), (ax3, "Temperature [°C]"),
                (bx1, "Voltage [V]"), (bx2, "Current [A]"), (bx3, "Temperature [°C]")]:
    ax.set_ylabel(lab, fontsize=FS)
    ax.tick_params(labelsize=FS, direction="out", length=3.5, width=0.8)
    for s in ax.spines.values():
        s.set_visible(True)
ax3.set_xlabel("Time [h]", fontsize=FS)
bx3.set_xlabel("Time [h]", fontsize=FS)

h_a = [Line2D([0], [0], color=c, lw=1.5) for c in (c_blue, c_orange)]
fig.legend(h_a, labels_a, loc="center", bbox_to_anchor=(0.5233, 0.9776), ncol=2,
           fontsize=FS, frameon=True, columnspacing=2.0)
h_b = [Line2D([0], [0], color=c, lw=1.5)
       for c in (c_blue, c_orange, c_green, c_red, c_purple, c_brown)]
fig.legend(h_b, labels_b, loc="center", bbox_to_anchor=(0.521, 0.4778), ncol=3,
           fontsize=FS, frameon=True, columnspacing=2.0)

fig.text(0.501, 0.5286, r"($\mathbf{a}$) Profiles of checkup tests", ha="center", va="center",
         fontsize=28.5, family="Liberation Serif")
fig.text(0.501, 0.0209, r"($\mathbf{b}$) Profiles of dynamic cycling", ha="center", va="center",
         fontsize=28.5, family="Liberation Serif")

fig.savefig("out.png", dpi=200)
